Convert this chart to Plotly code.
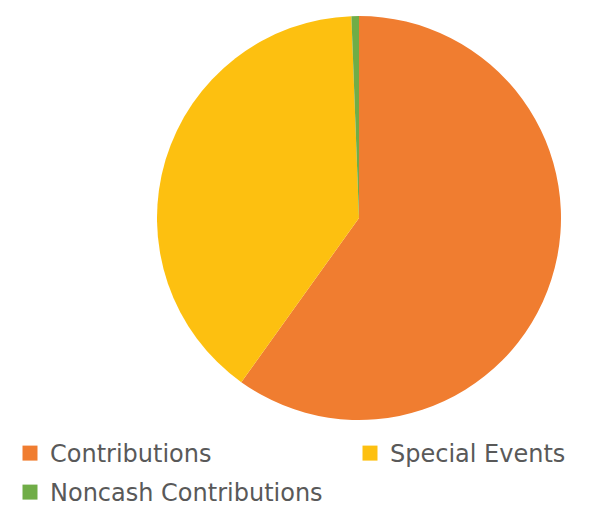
import plotly.graph_objects as go

labels = ["Contributions", "Special Events", "Noncash Contributions"]
values = [59.9, 39.5, 0.6]
colors = ["#F07D30", "#FDC010", "#70AD47"]

# page has an 8px body margin, so the figure is sized/positioned to compensate
W, H = 593, 497
cx, cy, r = 351, 210, 202

fig = go.Figure()
legend_ids = ["legend", "legend2", "legend3"]

fig.add_trace(go.Pie(
    labels=labels, values=values, sort=False, direction="clockwise", rotation=0,
    marker=dict(colors=colors, line=dict(width=0)),
    textinfo="none", hoverinfo="label+percent", showlegend=False,
    domain=dict(x=[(cx - r) / W, (cx + r) / W], y=[1 - (cy + r) / H, 1 - (cy - r) / H]),
))

# legend entries (one legend per entry to reproduce the two-column layout)
for lab, col, lg in zip(labels, colors, legend_ids):
    fig.add_trace(go.Scatter(
        x=[None], y=[None], mode="markers", name=lab, legend=lg,
        marker=dict(symbol="square", size=15, color=col),
        showlegend=True, hoverinfo="skip",
    ))

fig.update_xaxes(visible=False)
fig.update_yaxes(visible=False)

leg_common = dict(orientation="v", xanchor="left", yanchor="top",
                  font=dict(family="DejaVu Sans", size=24, color="#595959"),
                  itemclick=False, bgcolor="rgba(0,0,0,0)")
fig.update_layout(
    width=W, height=H, margin=dict(l=0, r=0, t=0, b=0, autoexpand=False),
    paper_bgcolor="white", plot_bgcolor="white",
    font=dict(family="DejaVu Sans", color="#595959"),
    legend=dict(x=2 / W, y=1 - 423 / H, **leg_common),
    legend2=dict(x=342 / W, y=1 - 423 / H, **leg_common),
    legend3=dict(x=2 / W, y=1 - 462 / H, **leg_common),
)
fig.write_html("out.html")
